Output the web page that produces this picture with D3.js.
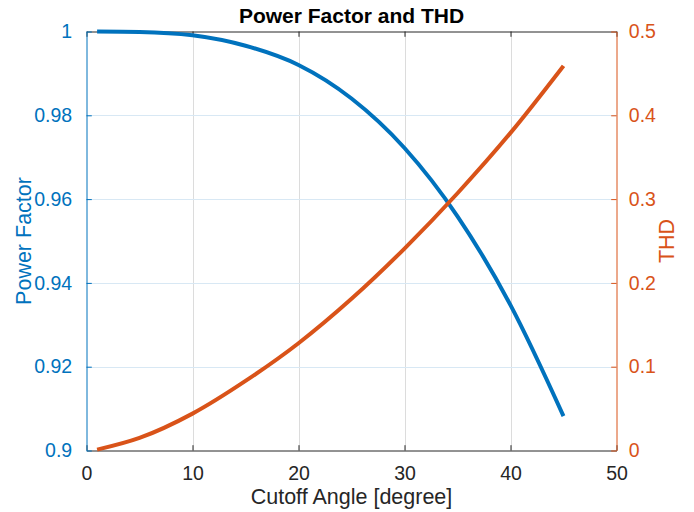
<!DOCTYPE html>
<html>
<head>
<meta charset="utf-8">
<script src="https://cdn.jsdelivr.net/npm/d3@7"></script>
<style>
  html, body { margin: 0; padding: 0; background: #ffffff; }
  svg { display: block; }
  text { font-family: "Liberation Sans", Arial, Helvetica, sans-serif; }
</style>
</head>
<body>
<svg id="chart" width="694" height="512"></svg>
<script>
// ---- data ----
const angleDeg    = [1, 5, 10, 15, 20, 25, 30, 35, 40, 45];
const powerFactor = [1.0000, 0.9999, 0.9991, 0.9966, 0.9920, 0.9840, 0.9722, 0.9559, 0.9347, 0.9082];
const thdValues   = [0.001, 0.015, 0.044, 0.083, 0.128, 0.181, 0.241, 0.307, 0.379, 0.459];

const xTicks  = [0, 10, 20, 30, 40, 50];
const xTickLabels = ["0", "10", "20", "30", "40", "50"];
const pfTicks = [0.9, 0.92, 0.94, 0.96, 0.98, 1];
const pfTickLabels = ["0.9", "0.92", "0.94", "0.96", "0.98", "1"];
const thdTicks = [0, 0.1, 0.2, 0.3, 0.4, 0.5];
const thdTickLabels = ["0", "0.1", "0.2", "0.3", "0.4", "0.5"];

const titleText = "Power Factor and THD";
const xLabelText = "Cutoff Angle [degree]";
const yLeftLabelText = "Power Factor";
const yRightLabelText = "THD";

// ---- styles ----
const BLUE = "#0072BD";
const ORANGE = "#D95319";
const DARK = "#262626";
const VGRID = "#dcdcdc";
const HGRID = "#d8e8f4";

const L = 86.5, R = 616.5, T = 31.5, B = 450.5;
const TICK = 5.3;

const svg = d3.select("#chart");

const x = d3.scaleLinear().domain([0, 50]).range([L, R]);
const yL = d3.scaleLinear().domain([0.9, 1]).range([B, T]);
const yR = d3.scaleLinear().domain([0, 0.5]).range([B, T]);

// grid
const grid = svg.append("g");
grid.selectAll("line.vg").data(xTicks.slice(1, -1)).join("line")
  .attr("x1", d => Math.round(x(d)) + 0.5).attr("x2", d => Math.round(x(d)) + 0.5)
  .attr("y1", T).attr("y2", B)
  .attr("stroke", VGRID).attr("stroke-width", 1);
grid.selectAll("line.hg").data(pfTicks.slice(1, -1)).join("line")
  .attr("x1", L).attr("x2", R)
  .attr("y1", d => Math.round(yL(d)) + 0.5).attr("y2", d => Math.round(yL(d)) + 0.5)
  .attr("stroke", HGRID).attr("stroke-width", 1);

// axes via d3 axis generators
const fmtFrom = (ticks, labels) => (d) => labels[ticks.indexOf(d)];

const xAxisB = d3.axisBottom(x).tickValues(xTicks).tickFormat(fmtFrom(xTicks, xTickLabels))
  .tickSizeInner(-TICK).tickSizeOuter(0).tickPadding(TICK + 10);
const gxB = svg.append("g").attr("transform", `translate(0,${B})`).call(xAxisB);
gxB.select(".domain").attr("stroke", DARK);
gxB.selectAll(".tick line").attr("stroke", DARK);
gxB.selectAll(".tick text").attr("fill", DARK).attr("font-size", 19.5)
  .attr("font-family", "'Liberation Sans', Arial, sans-serif");

const xAxisT = d3.axisTop(x).tickValues(xTicks).tickFormat("")
  .tickSizeInner(-TICK).tickSizeOuter(0);
const gxT = svg.append("g").attr("transform", `translate(0,${T})`).call(xAxisT);
gxT.select(".domain").attr("stroke", DARK);
gxT.selectAll(".tick line").attr("stroke", DARK);

const yAxisL = d3.axisLeft(yL).tickValues(pfTicks).tickFormat(fmtFrom(pfTicks, pfTickLabels))
  .tickSizeInner(-TICK).tickSizeOuter(0).tickPadding(TICK + 9);
const gyL = svg.append("g").attr("transform", `translate(${L},0)`).call(yAxisL);
gyL.select(".domain").attr("stroke", BLUE);
gyL.selectAll(".tick line").attr("stroke", BLUE);
gyL.selectAll(".tick text").attr("fill", BLUE).attr("font-size", 19.5)
  .attr("font-family", "'Liberation Sans', Arial, sans-serif");

const yAxisR = d3.axisRight(yR).tickValues(thdTicks).tickFormat(fmtFrom(thdTicks, thdTickLabels))
  .tickSizeInner(-TICK).tickSizeOuter(0).tickPadding(TICK + 7);
const gyR = svg.append("g").attr("transform", `translate(${R},0)`).call(yAxisR);
gyR.select(".domain").attr("stroke", ORANGE);
gyR.selectAll(".tick line").attr("stroke", ORANGE);
gyR.selectAll(".tick text").attr("fill", ORANGE).attr("font-size", 19.5)
  .attr("font-family", "'Liberation Sans', Arial, sans-serif");

// lines
const pfLine = d3.line().x((d, i) => x(angleDeg[i])).y(d => yL(d)).curve(d3.curveMonotoneX);
const thdLine = d3.line().x((d, i) => x(angleDeg[i])).y(d => yR(d)).curve(d3.curveMonotoneX);

svg.append("path").datum(powerFactor).attr("d", pfLine)
  .attr("fill", "none").attr("stroke", BLUE).attr("stroke-width", 4);
svg.append("path").datum(thdValues).attr("d", thdLine)
  .attr("fill", "none").attr("stroke", ORANGE).attr("stroke-width", 4);

// title & labels
svg.append("text").attr("x", (L + R) / 2).attr("y", 23).attr("text-anchor", "middle")
  .attr("font-size", 21).attr("font-weight", "bold").attr("fill", "#000").text(titleText);

svg.append("text").attr("x", (L + R) / 2).attr("y", 504).attr("text-anchor", "middle")
  .attr("font-size", 21.5).attr("fill", DARK).text(xLabelText);

svg.append("text").attr("transform", `translate(31,${(T + B) / 2}) rotate(-90)`)
  .attr("text-anchor", "middle").attr("font-size", 21.5).attr("fill", BLUE).text(yLeftLabelText);

svg.append("text").attr("transform", `translate(674,${(T + B) / 2}) rotate(-90)`)
  .attr("text-anchor", "middle").attr("font-size", 21.5).attr("fill", ORANGE).text(yRightLabelText);
</script>
</body>
</html>
